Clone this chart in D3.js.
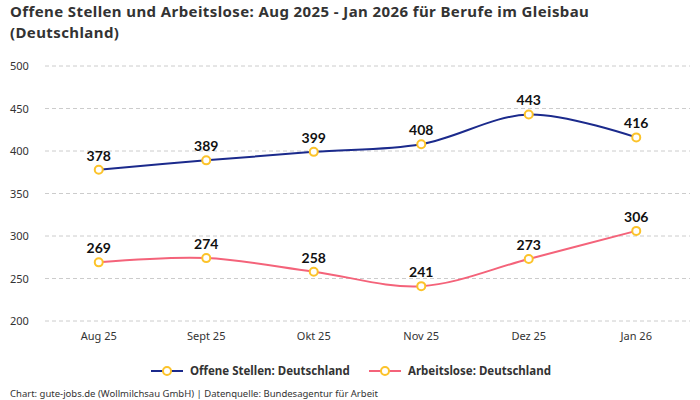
<!DOCTYPE html>
<html>
<head>
<meta charset="utf-8">
<script src="https://cdn.jsdelivr.net/npm/d3@7"></script>
<style>
body{margin:0;background:#fff;}
text{font-family:"Noto Sans",sans-serif;}
</style>
</head>
<body>
<div id="chart"></div>
<script>
var months = ['Aug 25','Sept 25','Okt 25','Nov 25','Dez 25','Jan 26'];
var offeneStellen = [378,389,399,408,443,416];
var arbeitslose = [269,274,258,241,273,306];
var yTicks = [200,250,300,350,400,450,500];
var seriesNames = ['Offene Stellen: Deutschland','Arbeitslose: Deutschland'];
var colors = ['#1b2a8c','#f4637a'];

var width = 700, height = 400;
var svg = d3.select('#chart').append('svg')
	.attr('width',width).attr('height',height);

// title
svg.append('text').attr('x',10).attr('y',17)
	.style('font-size','15px').style('letter-spacing','0.4px')
	.style('font-weight','bold').attr('fill','#333')
	.text('Offene Stellen und Arbeitslose: Aug 2025 - Jan 2026 für Berufe im Gleisbau');
svg.append('text').attr('x',10).attr('y',38)
	.style('font-size','15px').style('letter-spacing','0.4px')
	.style('font-weight','bold').attr('fill','#333')
	.text('(Deutschland)');

var x = d3.scalePoint().domain(months).range([45,690]).padding(0.5);
var y = d3.scaleLinear().domain([200,500]).range([321,66]);

// grid + y labels
var grid = svg.append('g');
yTicks.forEach(function(t){
	grid.append('line')
		.attr('x1',45).attr('x2',690)
		.attr('y1',y(t)).attr('y2',y(t))
		.style('stroke','#ccc').style('stroke-dasharray','4,3').style('stroke-width',1);
	grid.append('text')
		.attr('x',10).attr('y',y(t)+4)
		.style('font-size','11px').attr('fill','#333')
		.text(t);
});

// x labels
months.forEach(function(m){
	svg.append('text')
		.attr('x',x(m)).attr('y',340)
		.attr('text-anchor','middle')
		.style('font-size','11px').attr('fill','#333')
		.text(m);
});

var line = d3.line()
	.x(function(d,i){return x(months[i]);})
	.y(function(d){return y(d);})
	.curve(d3.curveCatmullRom.alpha(0.5));

[offeneStellen,arbeitslose].forEach(function(vals,k){
	svg.append('path').attr('d',line(vals))
		.style('fill','none').style('stroke',colors[k]).style('stroke-width',2);
	vals.forEach(function(v,i){
		svg.append('circle')
			.attr('cx',x(months[i])).attr('cy',y(v)).attr('r',4)
			.style('fill','#fff').style('stroke','#fcc32a').style('stroke-width',2);
		svg.append('text')
			.attr('x',x(months[i])).attr('y',y(v)-9)
			.attr('text-anchor','middle')
			.style('font-family','Lato,sans-serif')
			.style('font-size','14px').style('font-weight','bold').attr('fill','#111')
			.text(v);
	});
});

// legend
var legX = [151,369];
seriesNames.forEach(function(n,k){
	var g = svg.append('g').attr('transform','translate('+legX[k]+',371)');
	g.append('line').attr('x1',0).attr('x2',32).attr('y1',0).attr('y2',0)
		.style('stroke',colors[k]).style('stroke-width',2);
	g.append('circle').attr('cx',16).attr('cy',0).attr('r',4)
		.style('fill','#fff').style('stroke','#fcc32a').style('stroke-width',2);
	g.append('text').attr('x',39).attr('y',4)
		.style('font-size','11.5px').style('font-weight','bold').attr('fill','#333')
		.text(n);
});

// footer
svg.append('text').attr('x',10).attr('y',397)
	.style('font-size','9.5px').attr('fill','#333')
	.text('Chart: gute-jobs.de (Wollmilchsau GmbH) | Datenquelle: Bundesagentur für Arbeit');
</script>
</body>
</html>
